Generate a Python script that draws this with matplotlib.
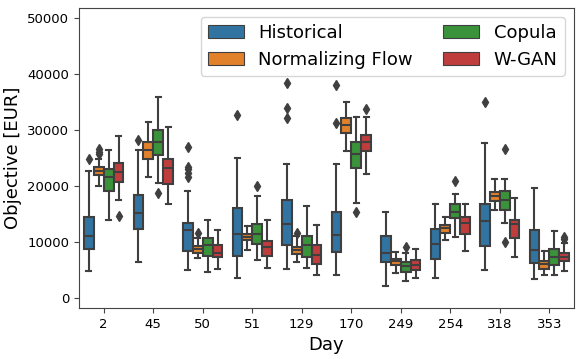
import matplotlib
matplotlib.use("Agg")
import matplotlib.pyplot as plt
from matplotlib.patches import Patch

days = ["2", "45", "50", "51", "129", "170", "249", "254", "318", "353"]
methods = ["Historical", "Normalizing Flow", "Copula", "W-GAN"]
colors = ["#3274a1", "#e1812c", "#3a923a", "#c03d3e"]

# per method: lists over days
hist_lo  = [4820, 6430, 5000, 3570, 5180, 4170, 2200, 3570, 5120, 3450]
hist_q1  = [8870, 12440, 8510, 7560, 9520, 8270, 6490, 7080, 9350, 6370]
hist_med = [11070, 15180, 12200, 11550, 13330, 11250, 8150, 9640, 13750, 8570]
hist_q3  = [14580, 18510, 13510, 16070, 17560, 15480, 11190, 12320, 16850, 12200]
hist_hi  = [22740, 26490, 19230, 25000, 23930, 23930, 15480, 16850, 27680, 19640]
hist_fl  = [[24940], [28270], [26960, 23510, 23040, 22320, 21610], [32740],
            [38390, 33930, 32140], [38100, 31250], [], [], [35120], []]

nf_lo  = [20120, 21610, 7140, 8630, 6550, 26370, 4580, 10420, 15770, 4110]
nf_q1  = [22020, 24940, 8100, 10420, 7920, 29520, 5890, 11730, 17440, 5300]
nf_med = [22740, 26430, 8870, 10950, 8630, 30890, 6610, 12500, 18210, 6190]
nf_q3  = [23390, 27920, 9290, 11490, 9110, 32260, 7020, 13150, 18990, 6610]
nf_hi  = [24820, 31490, 10710, 12920, 11130, 35060, 8210, 14460, 21250, 8510]
nf_fl  = [[26600, 26200, 25770], [], [11670], [], [11730], [], [], [], [], []]

cop_lo  = [13990, 20540, 4760, 6850, 5360, 16960, 3150, 11010, 13510, 4230]
cop_q1  = [19230, 25600, 7620, 9760, 7320, 23210, 4700, 14290, 15710, 5950]
cop_med = [21610, 27980, 9460, 11490, 9460, 25770, 5830, 15480, 17560, 7440]
cop_q3  = [23040, 30000, 10830, 13270, 11190, 27860, 6430, 16900, 19230, 8750]
cop_hi  = [26490, 35950, 13990, 18270, 16490, 32440, 8040, 18570, 21370, 12020]
cop_fl  = [[], [18870], [], [20060], [], [15420], [9110], [21010], [26610, 10120], []]

gan_lo  = [17500, 16850, 5180, 5480, 4170, 22140, 3570, 8450, 7320, 4940]
gan_q1  = [20770, 20420, 7320, 7560, 6130, 26250, 5060, 11430, 10830, 6730]
gan_med = [22620, 23210, 8150, 9110, 7740, 27920, 6010, 13390, 13270, 7440]
gan_q3  = [24110, 24820, 9460, 10300, 9580, 29110, 6850, 14580, 13990, 8150]
gan_hi  = [28990, 30540, 12200, 13990, 13100, 32440, 8810, 16850, 17980, 9940]
gan_fl  = [[14700], [], [], [], [], [33750], [], [], [], [11010, 10540]]

series = [
    (hist_lo, hist_q1, hist_med, hist_q3, hist_hi, hist_fl),
    (nf_lo, nf_q1, nf_med, nf_q3, nf_hi, nf_fl),
    (cop_lo, cop_q1, cop_med, cop_q3, cop_hi, cop_fl),
    (gan_lo, gan_q1, gan_med, gan_q3, gan_hi, gan_fl),
]

fig = plt.figure(figsize=(5.82, 3.59), dpi=100)
ax = fig.add_axes([0.1357, 0.142, 0.8506, 0.837])

line_col = "#3f3f3f"
n = len(methods)
each = 0.8 / n
for j, (lo, q1, med, q3, hi, fl) in enumerate(series):
    stats = []
    for i in range(len(days)):
        stats.append(dict(med=med[i], q1=q1[i], q3=q3[i], whislo=lo[i],
                          whishi=hi[i], fliers=fl[i]))
    pos = [i + (j - (n - 1) / 2) * each for i in range(len(days))]
    ax.bxp(stats, positions=pos, widths=each * 0.98, patch_artist=True,
           showfliers=True, manage_ticks=False,
           boxprops=dict(facecolor=colors[j], edgecolor=line_col, linewidth=1.5),
           medianprops=dict(color=line_col, linewidth=1.5),
           whiskerprops=dict(color=line_col, linewidth=1.5),
           capprops=dict(color=line_col, linewidth=1.5),
           flierprops=dict(marker="d", markersize=5, markerfacecolor=line_col,
                           markeredgecolor=line_col, linestyle="none"))

for s in ax.spines.values():
    s.set_color("#444444")
ax.tick_params(colors="#444444", labelcolor="black")

ax.set_xlim(-0.5, len(days) - 0.5)
ax.set_ylim(-1730, 51930)
ax.set_xticks(range(len(days)))
ax.set_xticklabels(days)
ax.set_yticks([0, 10000, 20000, 30000, 40000, 50000])
ax.tick_params(labelsize=9.5)
ax.set_xlabel("Day", fontsize=13)
ax.set_ylabel("Objective [EUR]", fontsize=13)

handles = [Patch(facecolor=c, edgecolor=line_col, linewidth=0.8) for c in colors]
ax.legend(handles, methods, loc="upper right", ncol=2, fontsize=13,
          handlelength=2.0, handleheight=0.78, columnspacing=1.68,
          labelspacing=0.5, borderaxespad=0.5)

fig.savefig("out.png", dpi=100)
